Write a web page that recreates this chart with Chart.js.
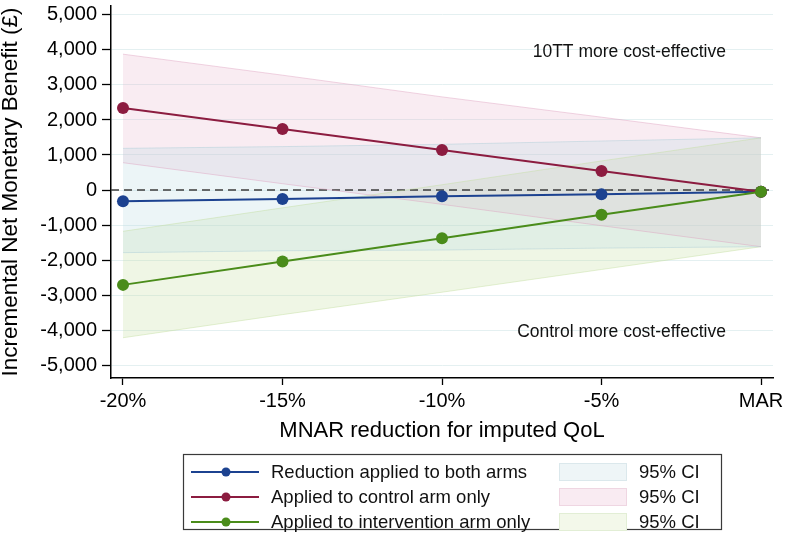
<!DOCTYPE html>
<html lang="en">
<head>
  <meta charset="UTF-8" />
  <title>Incremental Net Monetary Benefit by MNAR reduction</title>
  <script src="https://cdn.jsdelivr.net/npm/chart.js@4"></script>
  <style>
    html, body { margin: 0; padding: 0; background: #fff; }
    #wrap { position: relative; width: 786px; height: 540px; }
  </style>
</head>
<body>
<div id="wrap"><canvas id="chart" width="786" height="540"></canvas></div>

<script>
  // x positions (MNAR reduction, %) and their tick labels
  const xValues = [-20, -15, -10, -5, 0];
  const xLabels = ['-20%', '-15%', '-10%', '-5%', 'MAR'];
  const yTicks = [-5000, -4000, -3000, -2000, -1000, 0, 1000, 2000, 3000, 4000, 5000];

  // INMB point estimates (£)
  const bothArms = [-320, -255, -180, -120, -50];
  const controlOnly = [2340, 1745, 1145, 545, -50];
  const interventionOnly = [-2710, -2045, -1380, -710, -50];

  // 95% CI bounds (£)
  const bothLow = [-1790, -1735, -1715, -1660, -1620];
  const bothHigh = [1190, 1240, 1305, 1400, 1490];
  const controlLow = [780, 180, -410, -1020, -1620];
  const controlHigh = [3880, 3280, 2660, 2080, 1490];
  const interventionLow = [-4220, -3560, -2920, -2270, -1620];
  const interventionHigh = [-1180, -510, 150, 830, 1490];

  const seriesNames = ['Reduction applied to both arms', 'Applied to control arm only', 'Applied to intervention arm only'];
  const ciLabel = '95% CI';

  const FONT = "'Liberation Sans', Arial, Helvetica, sans-serif";
  const lineColors = ['#1c4290', '#8c1c40', '#4a8c1a'];
  const bandFill = ['rgba(185,220,228,0.28)', 'rgba(226,168,198,0.22)', 'rgba(196,220,160,0.27)'];
  const bandEdge = ['rgba(170,205,215,0.45)', 'rgba(222,160,190,0.45)', 'rgba(195,222,160,0.45)'];
  const swatchFill = ['#eef5f7', '#f9ebf2', '#f3f8ea'];
  const swatchEdge = ['#dbe8ec', '#efd6e2', '#e2eed5'];

  const pts = arr => arr.map((v, i) => ({ x: xValues[i], y: v }));

  function band(low, high, k) {
    return [
      { data: pts(low), borderColor: bandEdge[k], borderWidth: 1, pointRadius: 0, fill: false, order: 10 },
      { data: pts(high), borderColor: bandEdge[k], borderWidth: 1, pointRadius: 0, fill: '-1', backgroundColor: bandFill[k], order: 10 }
    ];
  }

  function series(arr, k, order) {
    return {
      data: pts(arr), borderColor: lineColors[k], backgroundColor: lineColors[k],
      borderWidth: 2, pointRadius: 6, pointBorderWidth: 0, fill: false, order: order
    };
  }

  const annotations = [
    { text: '10TT more cost-effective', x: -1.1, y: 3950 },
    { text: 'Control more cost-effective', x: -1.1, y: -4060 }
  ];

  // dashed zero line, annotations, legend
  const extras = {
    id: 'extras',
    beforeDatasetsDraw(chart) {
      const { ctx, chartArea, scales } = chart;
      const y0 = scales.y.getPixelForValue(0);
      ctx.save();
      ctx.strokeStyle = '#3c3c3c';
      ctx.lineWidth = 1.3;
      ctx.setLineDash([8, 5]);
      ctx.beginPath();
      ctx.moveTo(chartArea.left, y0);
      ctx.lineTo(chartArea.right, y0);
      ctx.stroke();
      ctx.restore();
    },
    afterDraw(chart) {
      const { ctx, scales } = chart;
      ctx.save();
      ctx.fillStyle = '#111';
      ctx.font = '17.5px ' + FONT;
      ctx.textAlign = 'right';
      ctx.textBaseline = 'middle';
      annotations.forEach(a => {
        ctx.fillText(a.text, scales.x.getPixelForValue(a.x), scales.y.getPixelForValue(a.y));
      });

      // legend box
      const bx = 183, by = 454, bw = 538, bh = 75;
      ctx.strokeStyle = '#3a3a3a';
      ctx.lineWidth = 1.2;
      ctx.strokeRect(bx + 0.5, by + 0.5, bw, bh);
      ctx.font = '18.5px ' + FONT;
      ctx.textAlign = 'left';
      for (let k = 0; k < 3; k++) {
        const cy = 472 + k * 25;
        ctx.strokeStyle = lineColors[k];
        ctx.lineWidth = 2;
        ctx.beginPath();
        ctx.moveTo(191, cy);
        ctx.lineTo(259, cy);
        ctx.stroke();
        ctx.fillStyle = lineColors[k];
        ctx.beginPath();
        ctx.arc(226, cy, 4.5, 0, Math.PI * 2);
        ctx.fill();
        ctx.fillStyle = '#111';
        ctx.fillText(seriesNames[k], 271, cy + 1);

        ctx.fillStyle = swatchFill[k];
        ctx.fillRect(559, cy - 9, 68, 18);
        ctx.strokeStyle = swatchEdge[k];
        ctx.lineWidth = 1;
        ctx.strokeRect(559.5, cy - 8.5, 67, 17);
        ctx.fillStyle = '#111';
        ctx.fillText(ciLabel, 639, cy + 1);
      }
      ctx.restore();
    }
  };

  new Chart(document.getElementById('chart'), {
    type: 'line',
    data: {
      datasets: [
        ...band(bothLow, bothHigh, 0),
        ...band(controlLow, controlHigh, 1),
        ...band(interventionLow, interventionHigh, 2),
        series(bothArms, 0, 3),
        series(controlOnly, 1, 2),
        series(interventionOnly, 2, 1)
      ]
    },
    options: {
      responsive: false,
      animation: false,
      devicePixelRatio: 1,
      layout: { padding: { top: 0, right: 13, bottom: 0, left: 0 } },
      plugins: {
        legend: { display: false },
        tooltip: { enabled: false },
        filler: { drawTime: 'beforeDatasetsDraw' }
      },
      scales: {
        x: {
          type: 'linear',
          min: -20.376,
          max: 0.376,
          afterBuildTicks: s => { s.ticks = xValues.map(v => ({ value: v })); },
          afterFit: s => { s.height = 162; s.paddingLeft = 0; s.paddingRight = 0; },
          ticks: {
            color: '#000',
            padding: 4,
            maxRotation: 0,
            font: { family: FONT, size: 20 },
            callback: v => xLabels[xValues.indexOf(v)]
          },
          grid: { drawOnChartArea: false, tickLength: 7, tickColor: '#000', tickWidth: 1.3 },
          border: { color: '#000', width: 1.5 },
          title: {
            display: true,
            text: 'MNAR reduction for imputed QoL',
            color: '#000',
            font: { family: FONT, size: 22 },
            padding: { top: 0, bottom: 96 }
          }
        },
        y: {
          min: -5370,
          max: 5256,
          afterBuildTicks: s => { s.ticks = yTicks.map(v => ({ value: v })); },
          afterFit: s => { s.width = 111; s.paddingTop = 0; s.paddingBottom = 0; },
          ticks: {
            color: '#000',
            padding: 5,
            font: { family: FONT, size: 20 },
            callback: v => v.toLocaleString('en-GB')
          },
          grid: { color: '#e4f0f1', lineWidth: 1, tickLength: 9, tickColor: '#000', tickWidth: 1.3 },
          border: { color: '#000', width: 1.5 },
          title: {
            display: true,
            text: 'Incremental Net Monetary Benefit (£)',
            color: '#000',
            font: { family: FONT, size: 22.5, lineHeight: 1 },
            padding: { top: 0, bottom: 0 }
          }
        }
      }
    },
    plugins: [extras]
  });
</script>
</body>
</html>
